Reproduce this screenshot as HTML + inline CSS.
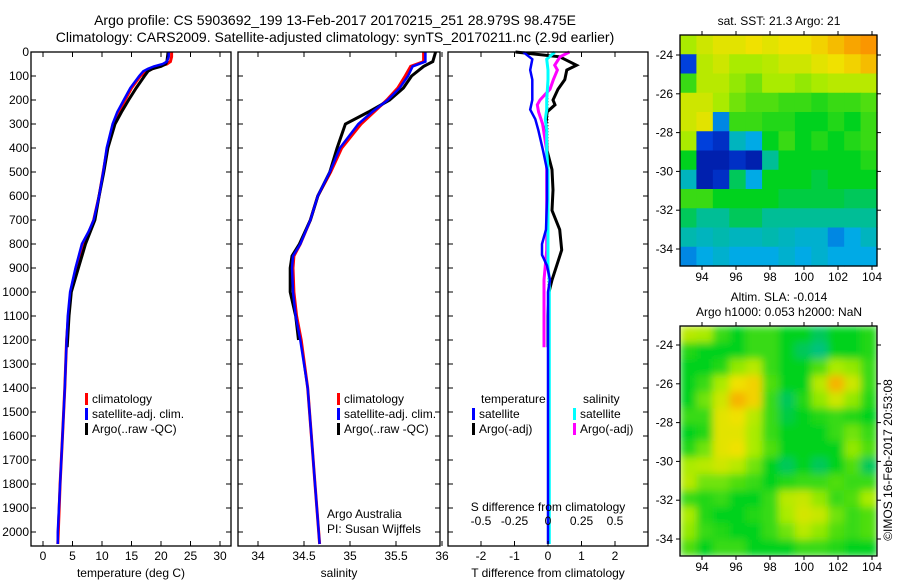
<!DOCTYPE html>
<html><head><meta charset="utf-8"><style>
body{margin:0;background:#fff;}
svg{display:block;font-family:"Liberation Sans",sans-serif;}
text{fill:#000;}
</style></head><body>
<svg id="s" width="900" height="580" viewBox="0 0 900 580">
<defs><filter id="bl" x="680" y="326" width="197" height="230" filterUnits="userSpaceOnUse"><feGaussianBlur stdDeviation="4" edgeMode="duplicate"/></filter>
<clipPath id="cb"><rect x="680" y="326" width="197" height="230"/></clipPath></defs>
<text x="335" y="25" font-size="14" text-anchor="middle">Argo profile: CS 5903692_199 13-Feb-2017 20170215_251 28.979S 98.475E</text>
<text x="335" y="42" font-size="14" text-anchor="middle">Climatology: CARS2009. Satellite-adjusted climatology: synTS_20170211.nc (2.9d earlier)</text>
<text x="779" y="25" font-size="12" text-anchor="middle">sat. SST: 21.3 Argo: 21</text>
<text x="779" y="301" font-size="12" text-anchor="middle">Altim. SLA: -0.014</text>
<text x="779" y="316" font-size="12" text-anchor="middle">Argo h1000: 0.053 h2000: NaN</text>
<text transform="translate(892,460) rotate(-90)" font-size="12" text-anchor="middle">©IMOS 16-Feb-2017 20:53:08</text>
<g id="g"></g>
</svg>
<script>
// ---- data ----
const tDepth=[0,20,40,50,60,70,80,100,150,200,250,300,400,500,600,700,750,800,900,1000,1100,1200,1400,1600,1800,2000,2050];
const tClim=[21.8,21.8,21.6,21,19.5,18.5,17.5,16.5,15,13.9,12.8,12,10.9,10.2,9.5,8.6,7.8,6.7,5.6,4.7,4.3,4.0,3.7,3.3,2.9,2.6,2.5];
const tSat=[21.3,21.3,21.0,20.3,18.8,17.8,17,16.3,14.8,13.7,12.6,11.8,10.8,10.2,9.5,8.6,7.7,6.6,5.5,4.6,4.2,4.0,3.7,3.3,2.9,2.5,2.5];
const aDepth=[0,20,40,50,60,70,80,100,150,200,250,300,400,500,600,700,750,800,900,1000,1100,1230];
const tArgo=[21.2,21.1,21.0,20.8,20,18.5,17.8,17.2,15.8,14.5,13.3,12.2,11,10.3,9.5,8.8,8.0,7.2,6.0,4.8,4.4,4.1];
const sDepth=[0,40,60,100,150,200,250,300,400,500,600,700,800,850,900,1000,1100,1200,1400,1600,1800,2000,2050];
const sClim=[35.8,35.8,35.66,35.6,35.52,35.4,35.26,35.12,34.91,34.79,34.65,34.57,34.46,34.39,34.38,34.39,34.42,34.47,34.54,34.58,34.62,34.66,34.67];
const sSat=[35.82,35.82,35.68,35.63,35.54,35.41,35.24,35.09,34.89,34.78,34.65,34.57,34.46,34.38,34.37,34.38,34.41,34.46,34.54,34.58,34.62,34.66,34.67];
const sArgo=[35.93,35.9,35.8,35.67,35.58,35.43,35.2,34.95,34.86,34.78,34.65,34.57,34.45,34.37,34.35,34.35,34.41,34.44];
const dDepth=[0,30,75,115,200,240,280,325,410,490,615,740,800,845,890,950,1000,1100,1200,1400,1800,2050];
const dTsat=[-0.74,-0.47,-0.53,-0.47,-0.47,-0.53,-0.38,-0.29,-0.15,-0.03,-0.03,-0.06,-0.18,-0.18,-0.03,0.06,0,0,0,0,0,0];
const dDepthA=[0,20,55,75,115,155,200,220,250,300,410,490,575,660,740,825,890,950,1000,1100,1230];
const dTargo=[-0.97,0.35,0.85,0.56,0.5,0.3,0.15,0.21,-0.03,-0.06,-0.03,0.12,0.15,0.12,0.35,0.41,0.26,0.12,0.03,0,0];
const dScyan=[0.05,-0.01,0,0,-0.01,-0.01,-0.02,-0.01,-0.01,0,0,0,0,0,0,0.01,0.01,0.01,0.01,0.01,0.01,0.01];
const dSmag=[0.16,0.09,0.05,0.07,0.04,0.015,-0.06,-0.08,-0.07,-0.04,-0.01,-0.01,-0.01,-0.01,-0.01,-0.01,-0.02,-0.03,-0.03,-0.03,-0.03];
const tTicks=[0,5,10,15,20,25,30];
const sTicks=[34,34.5,35,35.5,36];
const dTicks=[-2,-1,0,1,2];
const sdTicks=[-0.5,-0.25,0,0.25,0.5];
const depthTicks=[0,100,200,300,400,500,600,700,800,900,1000,1100,1200,1300,1400,1500,1600,1700,1800,1900,2000];
const lonTicks=[94,96,98,100,102,104];
const latTicks=[-24,-26,-28,-30,-32,-34];
const sstGrid=[
[.7,.75,.78,.78,.8,.78,.8,.8,.82,.85,.88,.9],
[.2,.72,.75,.7,.7,.72,.75,.75,.78,.8,.82,.85],
[.6,.72,.72,.68,.65,.7,.7,.68,.7,.72,.72,.72],
[.75,.75,.7,.65,.62,.62,.6,.6,.58,.6,.6,.62],
[.75,.78,.3,.6,.6,.58,.58,.55,.55,.58,.55,.6],
[.7,.2,.15,.4,.35,.55,.6,.55,.58,.55,.58,.6],
[.55,.1,.1,.15,.1,.45,.55,.55,.55,.55,.55,.58],
[.4,.1,.15,.5,.35,.55,.55,.55,.52,.55,.55,.55],
[.6,.6,.55,.55,.55,.55,.52,.52,.52,.52,.5,.5],
[.5,.45,.45,.5,.5,.45,.45,.45,.45,.45,.45,.45],
[.42,.4,.42,.4,.4,.42,.4,.38,.38,.3,.35,.4],
[.3,.35,.38,.35,.35,.35,.38,.35,.38,.35,.35,.35]];
const slaGrid=[
[.72,.7,.6,.55,.6,.6,.55,.55,.5,.55,.55,.58],
[.58,.55,.55,.55,.6,.6,.55,.5,.47,.55,.55,.58],
[.55,.55,.58,.68,.72,.6,.55,.55,.62,.7,.68,.6],
[.55,.6,.7,.8,.82,.62,.55,.55,.72,.86,.75,.6],
[.55,.65,.75,.86,.82,.6,.5,.58,.68,.75,.68,.58],
[.6,.6,.78,.8,.72,.6,.52,.55,.58,.6,.58,.55],
[.55,.58,.78,.78,.7,.6,.55,.55,.55,.6,.65,.6],
[.58,.65,.78,.8,.7,.62,.55,.55,.55,.55,.68,.62],
[.7,.72,.75,.72,.65,.55,.5,.55,.5,.55,.62,.5],
[.72,.65,.65,.62,.6,.55,.58,.6,.6,.62,.6,.6],
[.6,.58,.6,.55,.55,.6,.72,.74,.68,.6,.62,.7],
[.7,.58,.55,.55,.58,.6,.7,.76,.74,.65,.6,.62],
[.68,.6,.58,.55,.55,.6,.65,.72,.68,.62,.6,.62],
[.62,.55,.6,.6,.55,.55,.55,.6,.6,.58,.55,.55]];
// ---- helpers ----
const NS="http://www.w3.org/2000/svg",G=document.getElementById('g');
function mk(t,a,p){const e=document.createElementNS(NS,t);for(const k in a)e.setAttribute(k,a[k]);(p||G).appendChild(e);return e;}
const yD=d=>52+d*0.24;
const xT=v=>43+v*5.9, xS=v=>258+(v-34)*92, xDf=v=>548+v*33.5, xSd=v=>548+v*134;
const xLon=v=>702+(v-94)*17, yLat1=v=>55+(-24-v)*19.4, yLat2=v=>345+(-24-v)*19.4;
function line(xs,ds,fx,col,w,name,dash){
  const pts=xs.map((v,i)=>fx(v).toFixed(1)+','+yD(ds[i]).toFixed(1)).join(' ');
  const e=mk('polyline',{points:pts,fill:'none',stroke:col,'stroke-width':w});
  if(dash)e.setAttribute('stroke-dasharray',dash);
  
  
}
function txt(x,y,s,sz,anc,name){const e=mk('text',{x:x,y:y,'font-size':sz,'text-anchor':anc||'start'});e.textContent=s;
  return e;}
function box(x0,x1,y0,y1,name){const e=mk('rect',{x:x0,y:y0,width:x1-x0,height:y1-y0,fill:'none',stroke:'#000','stroke-width':1.3});
  }
function xticks(vals,fx,y0,y1,ly,labels,name){vals.forEach((v,i)=>{const x=fx(v);
  mk('line',{x1:x,x2:x,y1:y1,y2:y1-5,stroke:'#000'});mk('line',{x1:x,x2:x,y1:y0,y2:y0+5,stroke:'#000'});
  if(labels)txt(x,ly,String(v),12,'middle',name);});}
function legend(x,y,col,label){const r=mk('rect',{x:x,y:y-10,width:3,height:12,fill:col});
  
  txt(x+7,y,label,12,'start','legend-entry');}
const P=[[31,231],[238,440],[448,648]];
// depth axis
depthTicks.forEach(d=>{const y=yD(d);txt(29,y+4,String(d),12,'end','depth-tick-label');
  P.forEach(p=>{mk('line',{x1:p[0],x2:p[0]+5,y1:y,y2:y,stroke:'#000'});mk('line',{x1:p[1],x2:p[1]-5,y1:y,y2:y,stroke:'#000'});});});
// panel 1
line(tClim,tDepth,xT,'#f00',3,'temp-climatology-line');
line(tArgo,aDepth,xT,'#000',3,'temp-argo-line');
line(tSat,tDepth,xT,'#00f',2.5,'temp-satellite-line');
box(31,231,52,546,'temperature-panel');
xticks(tTicks,xT,52,546,560,true,'temp-tick-label');
txt(131,577,'temperature (deg C)',12,'middle','temp-axis-title');
legend(85,403,'#f00','climatology');legend(85,418,'#00f','satellite-adj. clim.');legend(85,433,'#000','Argo(..raw -QC)');
// panel 2
line(sClim,sDepth,xS,'#f00',3,'sal-climatology-line');
line(sArgo,sDepth.slice(0,sArgo.length),xS,'#000',3,'sal-argo-line');
line(sSat,sDepth,xS,'#00f',2.5,'sal-satellite-line');
box(238,440,52,546,'salinity-panel');
xticks(sTicks,xS,52,546,560,true,'sal-tick-label');
txt(339,577,'salinity',12,'middle','sal-axis-title');
legend(337,403,'#f00','climatology');legend(337,418,'#00f','satellite-adj. clim.');legend(337,433,'#000','Argo(..raw -QC)');
txt(327,518,'Argo Australia',12,'start','operator-label');txt(327,533,'PI: Susan Wijffels',12,'start','pi-label');
// panel 3
mk('line',{x1:548,x2:548,y1:yD(80),y2:546,stroke:'#000','stroke-dasharray':'1,2'});
line(dTargo,dDepthA,xDf,'#000',3,'tdiff-argo-line');
line(dSmag,dDepthA,xSd,'#f0f',3,'sdiff-argo-line');
line(dScyan,dDepth,xSd,'#0ff',3,'sdiff-satellite-line');
line(dTsat,dDepth,xDf,'#00f',2.5,'tdiff-satellite-line');
box(448,648,52,546,'difference-panel');
xticks(dTicks,xDf,52,546,560,true,'tdiff-tick-label');
sdTicks.forEach(v=>txt(xSd(v),525,String(v),12,'middle','sdiff-tick-label'));
txt(548,511,'S difference from climatology',12,'middle','sdiff-axis-title');
txt(548,577,'T difference from climatology',12,'middle','tdiff-axis-title');
txt(481,403,'temperature',12,'start','legend-header-temperature');txt(583,403,'salinity',12,'start','legend-header-salinity');
legend(472,418,'#00f','satellite');legend(472,433,'#000','Argo(-adj)');
legend(573,418,'#0ff','satellite');legend(573,433,'#f0f','Argo(-adj)');
// colormap
const stops=[[0,0,0,128],[.2,0,64,220],[.35,0,170,230],[.45,0,190,150],[.55,0,210,30],[.7,170,235,0],[.8,240,225,0],[.9,250,150,0],[1,240,80,0]];
function cm(v){for(let i=1;i<stops.length;i++)if(v<=stops[i][0]){const a=stops[i-1],b=stops[i],t=(v-a[0])/(b[0]-a[0]);
  return 'rgb('+[1,2,3].map(k=>Math.round(a[k]+t*(b[k]-a[k]))).join(',')+')';}return 'rgb(240,80,0)';}
function heat(grid,x0,y0,w,h,parent,name){const R=grid.length,C=grid[0].length;
  grid.forEach((row,r)=>row.forEach((v,c)=>{const e=mk('rect',{x:x0+c*w/C,y:y0+r*h/R,width:w/C+0.6,height:h/R+0.6,fill:cm(v)},parent);
    }));}
heat(sstGrid,680,35,197,231,G,'sst-cell');
const bg=mk('g',{'clip-path':'url(#cb)'});const bb=mk('g',{filter:'url(#bl)'},bg);
heat(slaGrid,680,326,197,230,bb,'sla-cell');
function mapAxes(y0,y1,fy,name){box(680,877,y0,y1,name);
  lonTicks.forEach(v=>{const x=xLon(v);mk('line',{x1:x,x2:x,y1:y1,y2:y1+4,stroke:'#000'});mk('line',{x1:x,x2:x,y1:y0,y2:y0-4,stroke:'#000'});
    txt(x,y1+15,String(v),12,'middle','lon-tick-label');});
  latTicks.forEach(v=>{const y=fy(v);mk('line',{x1:680,x2:676,y1:y,y2:y,stroke:'#000'});mk('line',{x1:877,x2:881,y1:y,y2:y,stroke:'#000'});
    txt(673,y+4,String(v),12,'end','lat-tick-label');});}
mapAxes(35,266,yLat1,'sst-map');
mapAxes(326,556,yLat2,'sla-map');
</script>
</body></html>
